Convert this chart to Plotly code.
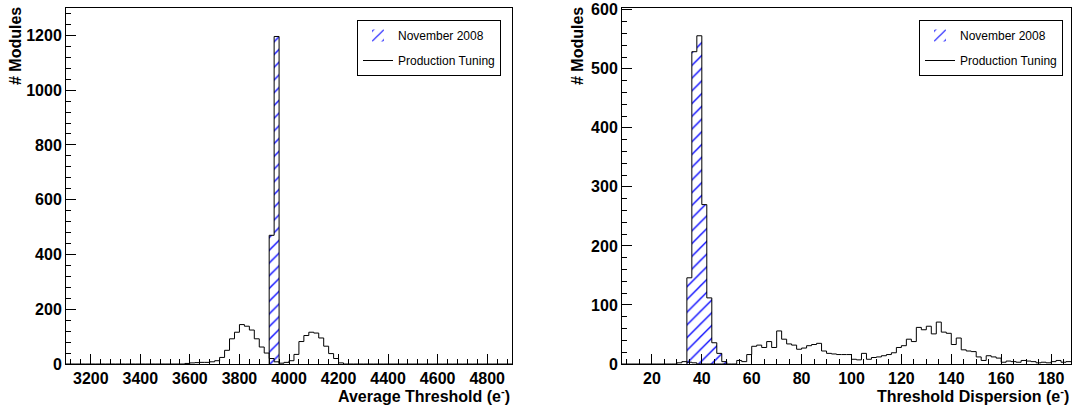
import numpy as np
import plotly.graph_objects as go

# ---------------- data ----------------
# Left panel: Average Threshold (e-), histogram bin width 20
avg_bin_width = 20
avg_range = [3100, 4900]
avg_nov_start = 3920
avg_nov_counts = [470, 1196]
avg_prod_start = 3580
avg_prod_counts = [2, 4, 5, 6, 6, 8, 12, 24, 50, 92, 116, 144, 138, 124, 92, 62,
                   40, 20, 8, 3, 6, 12, 35, 82, 104, 116, 113, 95, 65, 38, 20, 4]

# Right panel: Threshold Dispersion (e-), histogram bin width 2
disp_bin_width = 2
disp_range = [8, 188]
disp_nov_start = 34
disp_nov_counts = [146, 529, 556, 270, 112, 36, 18, 4]
disp_prod_start = 28
disp_prod_counts = [0, 2, 4, 3, 2, 0, 0, 0, 0, 0, 0, 0, 0, 6, 4, 16, 30, 32, 28, 38,
                    28, 56, 42, 34, 32, 25, 27, 31, 33, 35, 22, 18, 17, 16, 16, 16, 8, 7,
                    18, 8, 11, 12, 14, 16, 19, 28, 31, 42, 38, 62, 58, 64, 51, 71, 54, 52,
                    33, 44, 24, 22, 21, 12, 6, 14, 12, 10, 3, 5, 4, 3, 6, 5, 4, 2, 3, 2,
                    4, 6, 3, 4]

legend_names = ["November 2008", "Production Tuning"]

W, H = 1075, 407
FONT = "Liberation Sans"


def full_hist(start, width, counts, rng):
    """Pad a partial histogram to the full axis range (zeros outside)."""
    nbins = int(round((rng[1] - rng[0]) / width))
    vals = np.zeros(nbins)
    i0 = int(round((start - rng[0]) / width))
    vals[i0:i0 + len(counts)] = counts
    edges = rng[0] + width * np.arange(nbins + 1)
    return edges, vals


def step_xy(edges, vals):
    xs = list(edges)
    ys = list(vals) + [vals[-1]]
    return xs, ys


def outline_xy(start, width, counts):
    edges = start + width * np.arange(len(counts) + 1)
    xs = [edges[0]] + list(edges) + [edges[-1]]
    ys = [0] + list(counts) + [counts[-1], 0]
    return xs, ys


fig = go.Figure()

panels = [
    dict(xa="x", ya="y", leg="legend", w=avg_bin_width, rng=avg_range,
         ns=avg_nov_start, nc=avg_nov_counts, ps=avg_prod_start, pc=avg_prod_counts),
    dict(xa="x2", ya="y2", leg="legend2", w=disp_bin_width, rng=disp_range,
         ns=disp_nov_start, nc=disp_nov_counts, ps=disp_prod_start, pc=disp_prod_counts),
]

for p in panels:
    edges, vals = full_hist(p["ps"], p["w"], p["pc"], p["rng"])
    sx, sy = step_xy(edges, vals)
    fig.add_trace(go.Scatter(
        x=sx, y=sy, mode="lines", line=dict(color="black", width=1, shape="hv"),
        name=legend_names[1], legend=p["leg"], legendgroup=p["leg"] + "b",
        legendrank=2, xaxis=p["xa"], yaxis=p["ya"], hoverinfo="skip"))
    centers = p["ns"] + p["w"] * (np.arange(len(p["nc"])) + 0.5)
    fig.add_trace(go.Bar(
        x=centers, y=p["nc"], width=p["w"],
        marker=dict(color="white",
                    pattern=dict(shape="/", fgcolor="#0000ff", bgcolor="white",
                                 size=9, solidity=0.15),
                    line=dict(width=0)),
        name=legend_names[0], legend=p["leg"], legendgroup=p["leg"] + "a",
        legendrank=1, xaxis=p["xa"], yaxis=p["ya"]))
    ox, oy = outline_xy(p["ns"], p["w"], p["nc"])
    fig.add_trace(go.Scatter(
        x=ox, y=oy, mode="lines", line=dict(color="black", width=1, shape="hv"),
        showlegend=False, xaxis=p["xa"], yaxis=p["ya"], hoverinfo="skip"))

tickfont = dict(family=FONT, size=16, color="black", weight="bold")
common = dict(showline=True, mirror=True, linecolor="black", linewidth=1,
              ticks="inside", tickcolor="black", tickwidth=1, ticklen=10,
              showgrid=False, zeroline=False, tickfont=tickfont, automargin=False)

y0 = 1 - 364 / H
y1 = 1 - 8 / H

fig.update_layout(
    template="none",
    width=W, height=H,
    margin=dict(l=0, r=0, t=0, b=0, pad=0, autoexpand=False),
    paper_bgcolor="white", plot_bgcolor="white",
    barmode="overlay", bargap=0,
    xaxis=dict(domain=[66 / W, 512 / W], range=avg_range, tick0=0, dtick=200,
               minor=dict(ticks="inside", ticklen=5, dtick=40, tick0=0, tickcolor="black"),
               anchor="y", **common),
    yaxis=dict(domain=[y0, y1], range=[0, 1300], tick0=0, dtick=200,
               minor=dict(ticks="inside", ticklen=5, dtick=40, tick0=0, tickcolor="black"),
               anchor="x", **common),
    xaxis2=dict(domain=[622 / W, 1071 / W], range=disp_range, tick0=0, dtick=20,
                minor=dict(ticks="inside", ticklen=5, dtick=5, tick0=0, tickcolor="black"),
                anchor="y2", **common),
    yaxis2=dict(domain=[y0, y1], range=[0, 603], tick0=0, dtick=100,
                minor=dict(ticks="inside", ticklen=5, dtick=20, tick0=0, tickcolor="black"),
                anchor="x2", **common),
    legend=dict(x=501 / W, y=1 - 20 / H, xanchor="right", yanchor="top",
                bgcolor="white", bordercolor="black", borderwidth=1,
                font=dict(family=FONT, size=12, color="black"),
                tracegroupgap=6, itemwidth=30),
    legend2=dict(x=1063 / W, y=1 - 20 / H, xanchor="right", yanchor="top",
                 bgcolor="white", bordercolor="black", borderwidth=1,
                 font=dict(family=FONT, size=12, color="black"),
                 tracegroupgap=6, itemwidth=30),
    showlegend=True,
)

title_font = dict(family=FONT, size=16, color="black", weight="bold")
fig.add_annotation(text="Average Threshold (e<sup>-</sup>)", xref="paper", yref="paper",
                   x=512 / W, y=1 - 395 / H, xanchor="right", yanchor="middle",
                   showarrow=False, font=title_font)
fig.add_annotation(text="Threshold Dispersion (e<sup>-</sup>)", xref="paper", yref="paper",
                   x=1071 / W, y=1 - 395 / H, xanchor="right", yanchor="middle",
                   showarrow=False, font=title_font)
for xp in (15, 577):
    fig.add_annotation(text="# Modules", xref="paper", yref="paper",
                       x=xp / W, y=1 - 5 / H, xanchor="center", yanchor="top",
                       textangle=-90, showarrow=False, font=title_font)

fig.write_html("out.html",
               config={"displayModeBar": False},
               post_script="document.body.style.margin='0';document.body.style.overflow='hidden';")
